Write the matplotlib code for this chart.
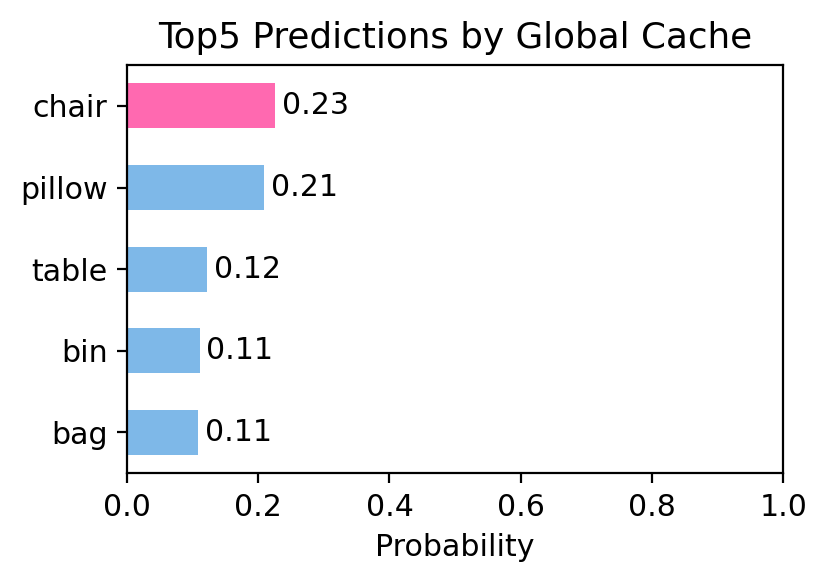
import numpy as np
import matplotlib.pyplot as plt

# Data
labels = ['bag', 'bin', 'table', 'pillow', 'chair']
probs = [0.109, 0.111, 0.122, 0.209, 0.226]
colors = ['#7EB8E8', '#7EB8E8', '#7EB8E8', '#7EB8E8', '#FF69B0']

fig = plt.figure(figsize=(4.145, 2.925), dpi=200)
ax = fig.add_axes([0.153, 0.191, 0.792, 0.698])

y = np.arange(len(labels))
bars = ax.barh(y, probs, height=0.55, color=colors)
for yi, p in zip(y, probs):
    ax.text(p + 0.01, yi, '%.2f' % p, va='center', ha='left', fontsize=10.8)

ax.set_yticks(y)
ax.set_yticklabels(labels, fontsize=10.8)
ax.set_xlim(0, 1)
ax.set_xlabel('Probability', fontsize=10.8)
ax.set_title('Top5 Predictions by Global Cache', fontsize=12.9)
ax.tick_params(axis='x', labelsize=10.8)

fig.savefig('out.png', dpi=200)
